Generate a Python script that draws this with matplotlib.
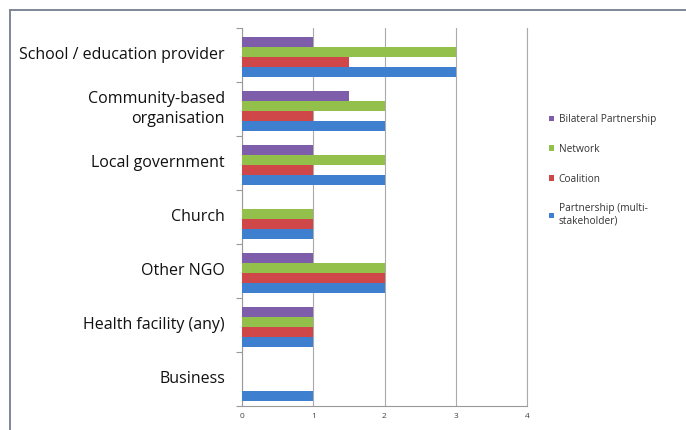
import matplotlib
matplotlib.use("Agg")
import matplotlib.pyplot as plt
from matplotlib.patches import Patch
from matplotlib.lines import Line2D
import numpy as np

categories = ["School / education provider", "Community-based\norganisation",
              "Local government", "Church", "Other NGO",
              "Health facility (any)", "Business"]
series_names = ["Bilateral Partnership", "Network", "Coalition",
                "Partnership (multi-\nstakeholder)"]
bilateral = [1, 1.5, 1, 0, 1, 1, 0]
network = [3, 2, 2, 1, 2, 1, 0]
coalition = [1.5, 1, 1, 1, 2, 1, 0]
partnership = [3, 2, 2, 1, 2, 1, 1]
x_ticks = [0, 1, 2, 3, 4]

colors = ["#7E5DAA", "#93C04A", "#D0474A", "#3F7FCF"]

plt.rcParams['font.family'] = ['Open Sans', 'DejaVu Sans']

fig = plt.figure(figsize=(6.86, 4.30), dpi=100)
ax = fig.add_axes([242/686, 1-406/430, (527-242)/686, (406-28)/430])

n = len(categories)
y = np.arange(n)
h = 0.185
offsets = [-1.5*h, -0.5*h, 0.5*h, 1.5*h]
for vals, col, off, name in zip([bilateral, network, coalition, partnership],
                                colors, offsets, series_names):
    ax.barh(y + off + 0.03, vals, height=h, color=col, label=name, zorder=3)

ax.set_ylim(n - 0.5, -0.5)
ax.set_xlim(0, 4)
ax.set_xticks(x_ticks)
ax.set_xticklabels([str(t) for t in x_ticks], fontsize=6, color="#444444")
ax.tick_params(axis='x', length=0, pad=5)
ax.set_yticks(np.arange(-0.5, n, 1.0))
ax.set_yticklabels([])
ax.tick_params(axis='y', length=4, color="#999999", direction='out')
ax.grid(axis='x', color="#AAAAAA", linewidth=0.8, zorder=0)
ax.axvline(4, color="#AAAAAA", linewidth=0.8, zorder=0, clip_on=False)
for s in ['top', 'right']:
    ax.spines[s].set_visible(False)
for s in ['left', 'bottom']:
    ax.spines[s].set_color("#999999")
    ax.spines[s].set_linewidth(0.8)

for i, c in enumerate(categories):
    ax.text(-0.24, i, c, ha='right', va='center', fontsize=11.5,
            color="#111111", linespacing=1.3, transform=ax.transData)

handles = [Patch(facecolor=c, edgecolor='none') for c in colors]
leg = fig.legend(handles, series_names, loc='upper left',
                 bbox_to_anchor=(540/686, 1-105/430), frameon=False,
                 fontsize=7.3, handlelength=0.5, handleheight=0.5,
                 handletextpad=0.45, labelspacing=1.85, labelcolor="#333333")

# outer frame (left and top edges)
fig.add_artist(Line2D([10/686, 10/686], [0, 1-10/430], transform=fig.transFigure,
                      color="#7F8795", linewidth=1.4))
fig.add_artist(Line2D([10/686, 1], [1-10/430, 1-10/430], transform=fig.transFigure,
                      color="#7F8795", linewidth=1.4))

fig.savefig("out.png", dpi=100)
